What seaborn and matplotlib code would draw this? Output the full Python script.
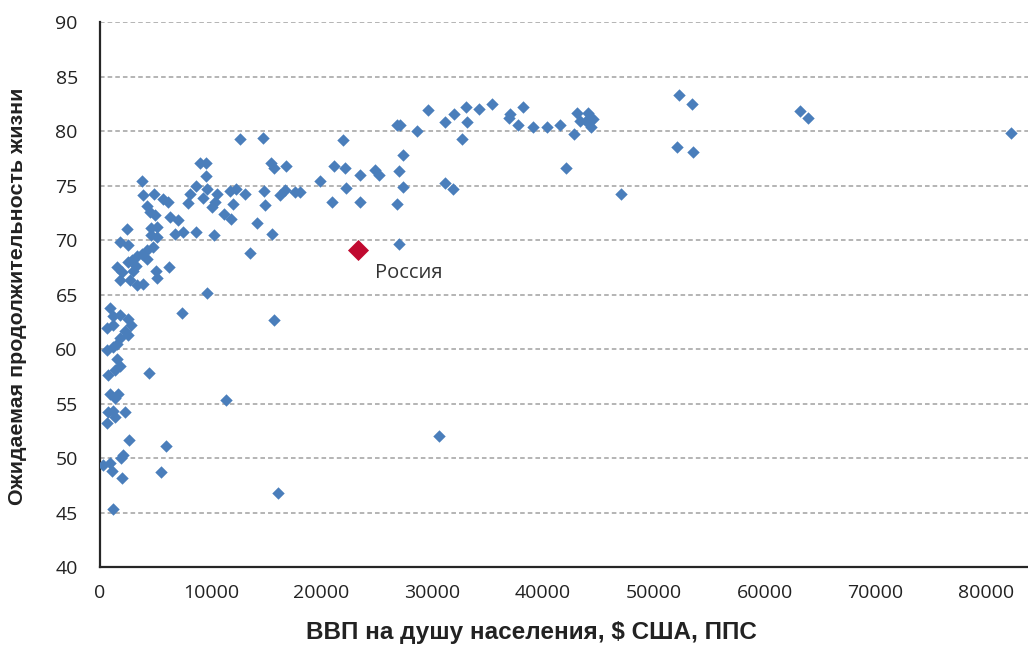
import numpy as np
import pandas as pd
import seaborn as sns
import matplotlib.pyplot as plt

# ВВП на душу населения (ППС, $) и ожидаемая продолжительность жизни
gdp = [26850, 27130, 28630, 29630, 31130, 32000, 33060, 33150, 32670, 34200,
       35410, 36980, 36920, 38220, 37730, 39090, 40330, 41560, 42790, 43100,
       43340, 44090, 43910, 44480, 44360, 42110, 47040, 52260, 53440, 52110,
       53550, 63230, 63890, 82300, 27400, 27010, 27370, 31130, 31850, 26850,
       27010, 30570,
       12660, 14710, 21940, 9040, 9580, 15430, 15730, 16790, 21160, 22090,
       23450, 24860, 25160, 9580, 19830, 22240, 9650, 9340, 10550, 10400,
       10100, 11750, 12300, 13110, 14770, 14920, 16270, 16730, 17570, 18020,
       12050, 11150, 11840, 14170, 15520, 10310, 13560, 20950, 23450, 9650,
       3760, 8680, 3910, 4900, 5670, 6180, 8080, 7930, 4210, 4510,
       4970, 6330, 7020, 2410, 4610, 5120, 4610, 5120, 6780, 7470,
       8680, 1810, 2560, 4750, 4210, 3760, 3310, 2860, 2560, 4210,
       3000, 3250, 1510, 1960, 5060, 6260, 5120, 1810, 2710, 3320,
       3860,
       900, 1200, 1810, 2560, 2800, 600, 1200, 2260, 2560, 1810,
       1510, 1200, 600, 1510, 1810, 1350, 750, 4420, 900, 1660,
       1350, 750, 1200, 1350, 2260, 600, 2650, 5930, 2100, 1900,
       300, 900, 1060, 1960, 5480, 1200, 11390, 16070, 15730, 7440]
life = [80.6, 80.6, 80.0, 81.9, 80.8, 81.6, 82.2, 80.8, 79.3, 82.0,
        82.5, 81.6, 81.2, 82.2, 80.6, 80.4, 80.4, 80.6, 79.7, 81.7,
        80.9, 81.7, 80.9, 81.1, 80.4, 76.6, 74.2, 83.3, 82.5, 78.5,
        78.1, 81.8, 81.2, 79.8, 77.8, 76.3, 74.9, 75.2, 74.7, 73.3,
        69.6, 52.0,
        79.3, 79.4, 79.2, 77.1, 77.1, 77.1, 76.6, 76.8, 76.8, 76.6,
        76.0, 76.4, 76.0, 75.9, 75.4, 74.8, 74.7, 73.9, 74.2, 73.5,
        73.0, 74.5, 74.7, 74.2, 74.5, 73.2, 74.1, 74.6, 74.4, 74.4,
        73.3, 72.4, 71.9, 71.6, 70.6, 70.5, 68.8, 73.5, 73.5, 65.1,
        75.4, 75.0, 74.1, 74.2, 73.8, 73.5, 74.2, 73.4, 73.1, 72.6,
        72.3, 72.1, 71.8, 71.0, 71.1, 71.2, 70.5, 70.3, 70.6, 70.7,
        70.7, 69.8, 69.5, 69.4, 69.1, 68.7, 68.5, 68.2, 68.0, 68.3,
        67.2, 67.6, 67.5, 67.1, 67.2, 67.5, 66.5, 66.3, 66.3, 65.9,
        66.0,
        63.8, 63.0, 63.1, 62.8, 62.2, 61.9, 62.2, 61.7, 61.3, 61.0,
        60.5, 60.2, 59.9, 59.1, 58.4, 58.1, 57.6, 57.8, 55.9, 55.9,
        55.5, 54.2, 54.3, 53.8, 54.2, 53.2, 51.7, 51.1, 50.3, 50.0,
        49.4, 49.5, 48.8, 48.2, 48.7, 45.3, 55.3, 46.8, 62.7, 63.3]

russia_gdp = [23330]
russia_life = [69.1]
russia_name = "Россия"

x_ticks = list(range(0, 80001, 10000))
y_ticks = list(range(40, 91, 5))

sns.set_theme(style="white")
plt.rcParams['font.family'] = ['Open Sans', 'DejaVu Sans']

fig = plt.figure(figsize=(10.28, 6.47), dpi=100)
# the plot area runs on past the right edge, as in the cropped original
ax = fig.add_axes([0.0973, 0.1236, 0.9696, 0.8423])

df = pd.DataFrame({'gdp': gdp, 'life': life})
sns.scatterplot(data=df, x='gdp', y='life', marker='D', s=40,
                color='#4A7EBB', linewidth=0, ax=ax, zorder=3)
sns.scatterplot(x=russia_gdp, y=russia_life, marker='D', s=115,
                color='#C00A30', linewidth=0, ax=ax, zorder=4)
ax.annotate(russia_name, (russia_gdp[0], russia_life[0]),
            xytext=(12, -17), textcoords='offset points',
            ha='left', va='center', fontsize=14.5, color='#333333')

ax.set_xlim(0, 90000)
ax.set_ylim(40, 90)
ax.set_xticks(x_ticks)
ax.set_yticks(y_ticks)
ax.tick_params(axis='x', length=0, pad=12, labelsize=14, labelcolor='#222222')
ax.tick_params(axis='y', length=0, pad=16, labelsize=14, labelcolor='#222222')

ax.yaxis.grid(True, linestyle=(0, (3, 2)), color='#A0A0A0', linewidth=1.1)
ax.xaxis.grid(False)
ax.set_axisbelow(True)
for s in ['top', 'right']:
    ax.spines[s].set_visible(False)
for s in ['left', 'bottom']:
    ax.spines[s].set_color('#262626')
    ax.spines[s].set_linewidth(1.6)

ax.set_xlabel('')
ax.set_ylabel('')
fig.text(0.0175, 0.5425, 'Ожидаемая продолжительность жизни', rotation=90,
         ha='center', va='center', fontsize=15.4, fontweight='bold',
         family=['Liberation Sans', 'DejaVu Sans'], color='#222222')
fig.text(0.517, 0.022, 'ВВП на душу населения, $ США, ППС',
         ha='center', va='center', fontsize=17.5, fontweight='bold',
         family=['Liberation Sans', 'DejaVu Sans'], color='#222222')

fig.savefig('out.png', dpi=100)
